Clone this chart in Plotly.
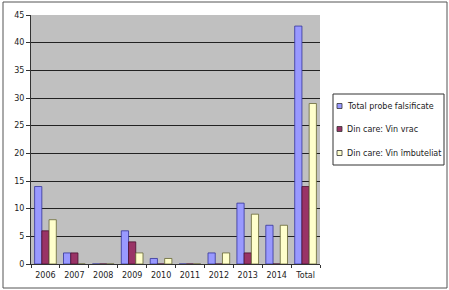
import plotly.graph_objects as go

categories = ["2006", "2007", "2008", "2009", "2010", "2011", "2012", "2013", "2014", "Total"]
total_probe = [14, 2, 0, 6, 1, 0, 2, 11, 7, 43]
vin_vrac = [6, 2, 0, 4, 0, 0, 0, 2, 0, 14]
vin_imbuteliat = [8, 0, 0, 2, 1, 0, 2, 9, 7, 29]

series = [
    ("Total probe falsificate", total_probe, "#9999FF", "#333399"),
    ("Din care: Vin vrac", vin_vrac, "#993366", "#4a1030"),
    ("Din care: Vin îmbuteliat", vin_imbuteliat, "#FFFFCC", "#666633"),
]

W, H = 449, 290
L, R, T, B = 31, 129, 15, 26

fig = go.Figure()
for i, (name, vals, col, edge) in enumerate(series):
    fig.add_trace(go.Bar(
        x=categories, y=vals, name=name, showlegend=False,
        marker=dict(color=col, line=dict(color=edge, width=0.8)),
    ))

pw = W - L - R
ph = H - T - B

def px_x(p):
    return (p - L) / pw

def px_y(p):
    return (H - B - p) / ph

fig.update_layout(
    width=W, height=H,
    margin=dict(l=L, r=R, t=T, b=B, autoexpand=False),
    paper_bgcolor="white",
    plot_bgcolor="#C0C0C0",
    barmode="group",
    bargap=0.25,
    bargroupgap=0.0,
    font=dict(family="DejaVu Sans", size=8, color="#222222"),
    showlegend=False,
    xaxis=dict(
        type="category", tickson="boundaries", ticks="outside", ticklen=3,
        tickcolor="#333333", showline=True, linecolor="#333333", linewidth=1,
        showgrid=False, tickfont=dict(size=8), tickangle=0, ticklabelstandoff=3,
        automargin=False,
    ),
    yaxis=dict(
        range=[0, 45], dtick=5, ticks="outside", ticklen=4, tickcolor="#333333",
        showline=True, linecolor="#333333", linewidth=1,
        gridcolor="#222222", gridwidth=1, zeroline=False, tickfont=dict(size=8),
        automargin=False,
    ),
)

# outer chart border
fig.add_shape(type="rect", xref="paper", yref="paper",
              x0=px_x(3), x1=px_x(447), y0=px_y(288), y1=px_y(2),
              line=dict(color="#555555", width=1), fillcolor="rgba(0,0,0,0)", layer="below")

# legend box
fig.add_shape(type="rect", xref="paper", yref="paper",
              x0=px_x(333), x1=px_x(444), y0=px_y(165), y1=px_y(94),
              line=dict(color="#333333", width=1), fillcolor="white")
legend_y = [106, 129, 153]
for (name, vals, col, edge), yy in zip(series, legend_y):
    fig.add_shape(type="rect", xref="paper", yref="paper",
                  x0=px_x(337), x1=px_x(342), y0=px_y(yy + 2.5), y1=px_y(yy - 2.5),
                  line=dict(color="#333333", width=0.8), fillcolor=col)
    fig.add_annotation(xref="paper", yref="paper", x=px_x(345), y=px_y(yy),
                       text=name, showarrow=False, xanchor="left", yanchor="middle",
                       font=dict(family="DejaVu Sans", size=8, color="#222222"))

fig.write_html("out.html")
